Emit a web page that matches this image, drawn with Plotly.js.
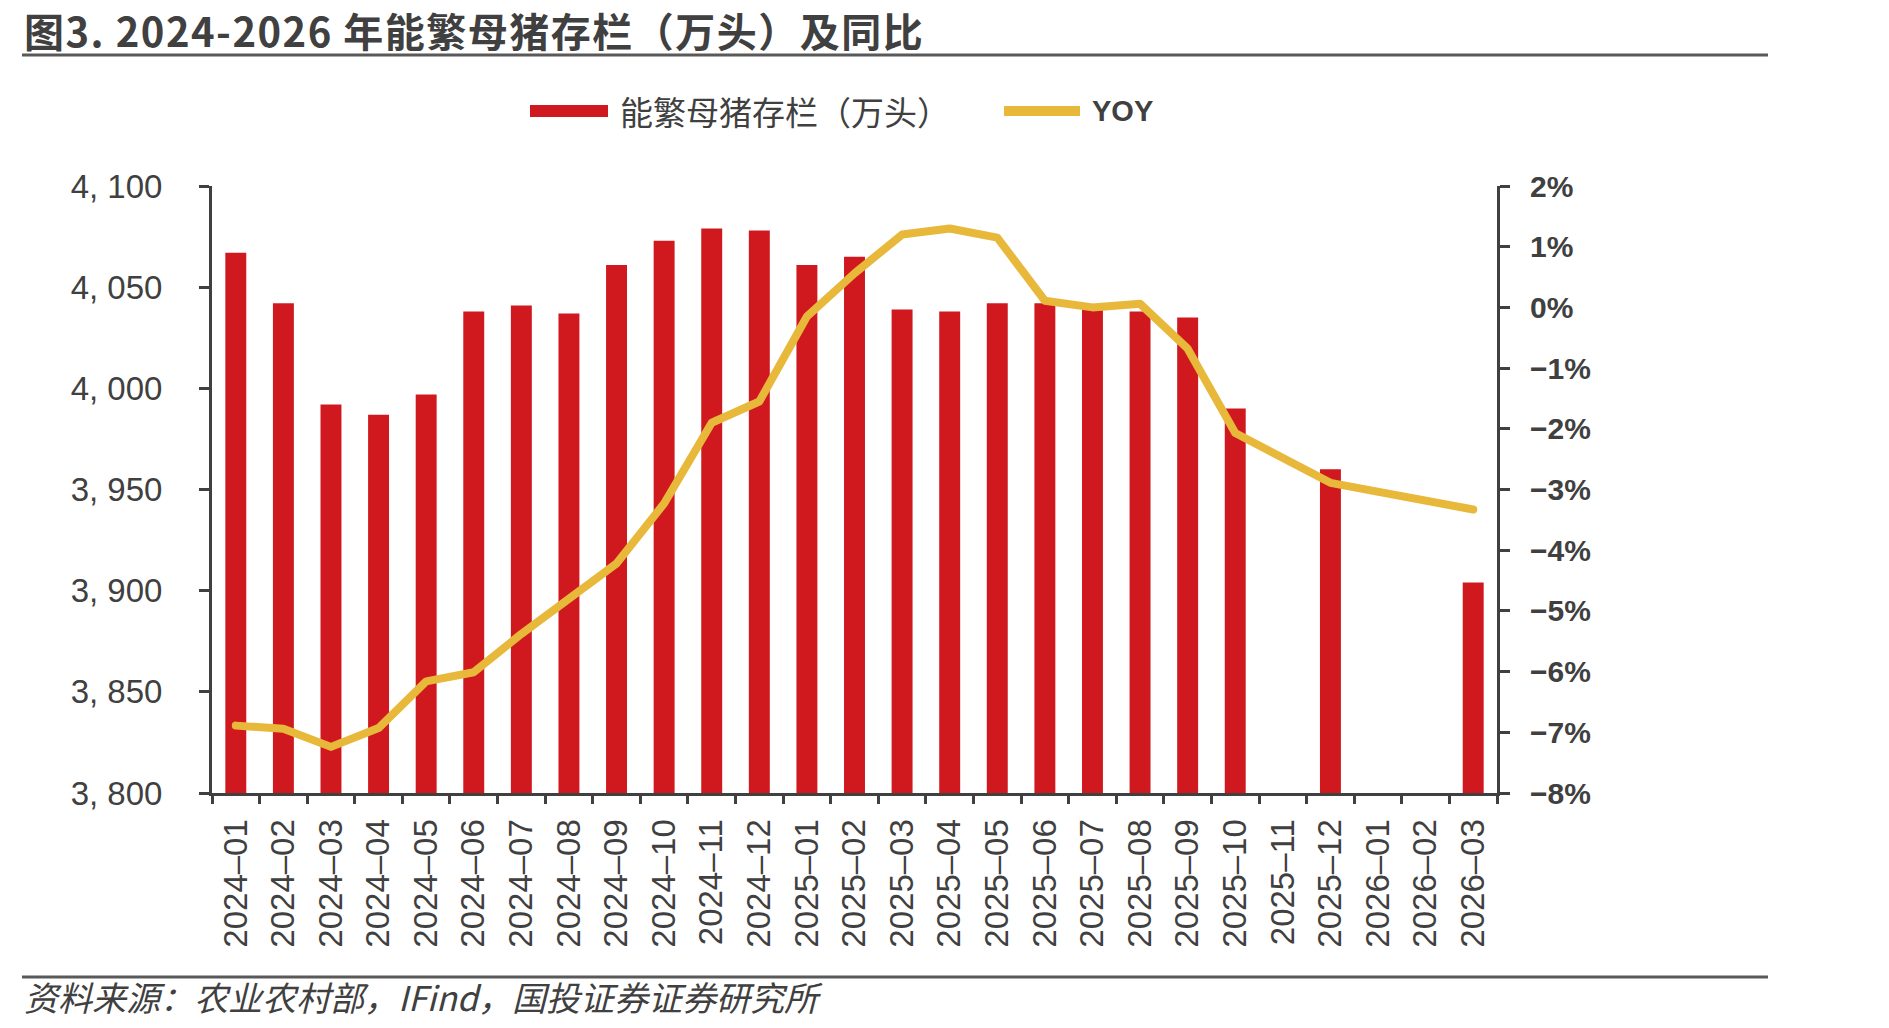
<!DOCTYPE html>
<html>
<head>
<meta charset="utf-8">
<script src="https://cdn.plot.ly/plotly-3.0.1.min.js"></script>
<style>
  html, body { margin: 0; padding: 0; background: #ffffff; }
  #chart { width: 1889px; height: 1028px; }
  .js-line { stroke-linecap: round; stroke-linejoin: round; }
  .gtitle { letter-spacing: 1.5px; }
</style>
</head>
<body>
<div id="chart"></div>
<script>
// Months on the category axis
const months = [
  '2024–01','2024–02','2024–03','2024–04','2024–05','2024–06','2024–07','2024–08','2024–09',
  '2024–10','2024–11','2024–12','2025–01','2025–02','2025–03','2025–04','2025–05','2025–06',
  '2025–07','2025–08','2025–09','2025–10','2025–11','2025–12','2026–01','2026–02','2026–03'
];

// 能繁母猪存栏（万头）
const sowStock = [
  4067, 4042, 3992, 3987, 3997, 4038, 4041, 4037, 4061,
  4073, 4079, 4078, 4061, 4065, 4039, 4038, 4042, 4042,
  4040, 4038, 4035, 3990, null, 3960, null, null, 3904
];

// YOY, %
const yoy = [
  -6.89, -6.94, -7.24, -6.93, -6.16, -6.01, -5.38, -4.82, -4.22,
  -3.23, -1.90, -1.55, -0.15, 0.56, 1.20, 1.30, 1.15, 0.11,
  0.00, 0.06, -0.68, -2.07, null, -2.89, null, null, -3.33
];

// Axis ticks
const leftTickVals = [3800, 3850, 3900, 3950, 4000, 4050, 4100];
const leftTickText = ['3, 800', '3, 850', '3, 900', '3, 950', '4, 000', '4, 050', '4, 100'];
const rightTickVals = [-8, -7, -6, -5, -4, -3, -2, -1, 0, 1, 2];
const rightTickText = ['−8%', '−7%', '−6%', '−5%', '−4%', '−3%', '−2%', '−1%', '0%', '1%', '2%'];

const titleText = '图3. 2024-2026 年能繁母猪存栏（万头）及同比';
const seriesNames = ['能繁母猪存栏（万头）', 'YOY'];
const sourceText = '资料来源：农业农村部，IFind，国投证券证券研究所';

// Page geometry (pixels) and helpers to place decorations in paper units
const W = 1889, H = 1028;
const M = { l: 212, r: 392, t: 186, b: 235 };
const PW = W - M.l - M.r, PH = H - M.t - M.b;
const xp = px => (px - M.l) / PW;
const yp = py => (H - M.b - py) / PH;

const INK = '#404040';
const RED = '#D0181F';
const GOLD = '#E8B83A';
const LATIN = 'Liberation Sans, Arial, sans-serif';
const CJK = 'Noto Sans CJK SC, Liberation Sans, sans-serif';

const traces = [
  {
    type: 'bar',
    name: seriesNames[0],
    x: months,
    y: sowStock,
    marker: { color: RED, line: { width: 0 } },
    yaxis: 'y',
    hoverinfo: 'x+y'
  },
  {
    type: 'scatter',
    mode: 'lines',
    name: seriesNames[1],
    x: months,
    y: yoy,
    yaxis: 'y2',
    connectgaps: true,
    line: { color: GOLD, width: 8 }
  }
];

const layout = {
  width: W,
  height: H,
  margin: M,
  paper_bgcolor: '#ffffff',
  plot_bgcolor: '#ffffff',
  showlegend: false,
  bargap: 0.56,
  title: {
    text: titleText,
    xref: 'container', yref: 'container',
    x: 24 / W, xanchor: 'left',
    y: 1 - 33 / H, yanchor: 'middle',
    font: { family: CJK, size: 40, color: INK, weight: 'bold' }
  },
  xaxis: {
    type: 'category',
    tickson: 'boundaries',
    ticks: 'outside', ticklen: 8, tickwidth: 3, tickcolor: INK,
    showline: true, linewidth: 3, linecolor: INK,
    showgrid: false, zeroline: false,
    tickangle: -90,
    ticklabelstandoff: 10,
    tickfont: { family: LATIN, size: 33, color: INK }
  },
  yaxis: {
    range: [3800, 4100],
    tickmode: 'array', tickvals: leftTickVals, ticktext: leftTickText,
    ticks: 'outside', ticklen: 10, tickwidth: 3, tickcolor: INK,
    showline: true, linewidth: 3, linecolor: INK,
    showgrid: false, zeroline: false,
    ticklabelstandoff: 30,
    tickfont: { family: LATIN, size: 33, color: INK }
  },
  yaxis2: {
    overlaying: 'y', side: 'right',
    range: [-8, 2],
    tickmode: 'array', tickvals: rightTickVals, ticktext: rightTickText,
    ticks: 'outside', ticklen: 10, tickwidth: 3, tickcolor: INK,
    showline: true, linewidth: 3, linecolor: INK,
    showgrid: false, zeroline: false,
    ticklabelstandoff: 14,
    tickfont: { family: LATIN, size: 30, color: INK, weight: 'bold' }
  },
  shapes: [
    // rule under the heading
    { type: 'line', xref: 'paper', yref: 'paper', x0: xp(22), x1: xp(1768), y0: yp(55), y1: yp(55),
      line: { color: '#595959', width: 3 } },
    // rule above the source note
    { type: 'line', xref: 'paper', yref: 'paper', x0: xp(22), x1: xp(1768), y0: yp(977), y1: yp(977),
      line: { color: '#595959', width: 3 } },
    // legend keys
    { type: 'rect', xref: 'paper', yref: 'paper', x0: xp(530), x1: xp(608), y0: yp(117), y1: yp(105),
      fillcolor: RED, line: { width: 0 } },
    { type: 'line', xref: 'paper', yref: 'paper', x0: xp(1004), x1: xp(1080), y0: yp(111), y1: yp(111),
      line: { color: GOLD, width: 10 } }
  ],
  annotations: [
    { xref: 'paper', yref: 'paper', x: xp(618), y: yp(111), xanchor: 'left', yanchor: 'middle',
      showarrow: false, text: seriesNames[0],
      font: { family: CJK, size: 33, color: INK } },
    { xref: 'paper', yref: 'paper', x: xp(1090), y: yp(111), xanchor: 'left', yanchor: 'middle',
      showarrow: false, text: seriesNames[1],
      font: { family: LATIN, size: 29, color: INK, weight: 'bold' } },
    { xref: 'paper', yref: 'paper', x: xp(22), y: yp(996), xanchor: 'left', yanchor: 'middle',
      showarrow: false, text: sourceText,
      font: { family: CJK, size: 34, color: INK, style: 'italic' } }
  ]
};

Plotly.newPlot('chart', traces, layout, { displayModeBar: false, responsive: false });
</script>
</body>
</html>
